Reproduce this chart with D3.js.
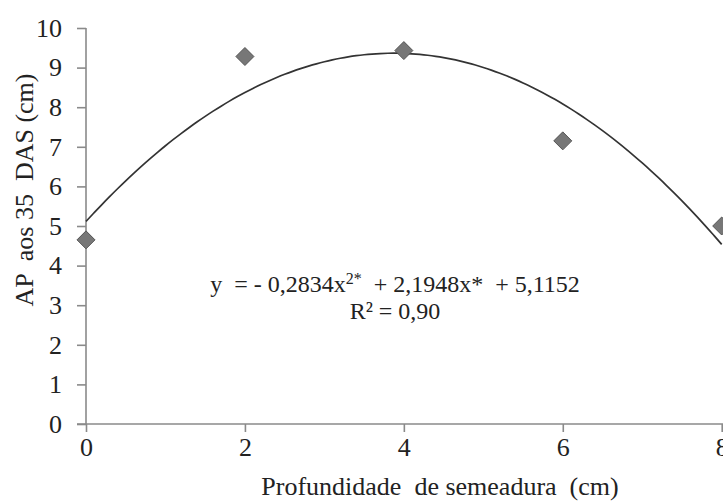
<!DOCTYPE html>
<html>
<head>
<meta charset="utf-8">
<script src="https://cdn.jsdelivr.net/npm/d3@7"></script>
<style>
  body { margin: 0; background: #fff; }
  svg { display: block; }
  text { white-space: pre; fill: #222; }
  .axis path, .axis line { stroke: #8a8a8a; stroke-width: 1.6; }
  .axis text { fill: #222; }
</style>
</head>
<body>
<svg class="chart_svg" width="723" height="502"></svg>
<script>
// data
var depths = [0, 2, 4, 6, 8];
var heights = [4.65, 9.28, 9.43, 7.15, 5.0];
var xTicks = [0, 2, 4, 6, 8];
var yTicks = [0, 1, 2, 3, 4, 5, 6, 7, 8, 9, 10];
// fitted curve printed on the chart: y = a x^2 + b x + c
var coef = [-0.2834, 2.1948, 5.1152];

var serif = "Liberation Serif";

var svg = d3.select(".chart_svg"),
    margin = {top: 28, right: 1, bottom: 78, left: 86},
    width = svg.attr("width") - margin.left - margin.right,
    height = svg.attr("height") - margin.top - margin.bottom;

var g = svg.append("g")
    .attr("transform", "translate(" + margin.left + "," + margin.top + ")");

var x = d3.scaleLinear().domain([0, 8]).range([0, 635.7]);
var y = d3.scaleLinear().domain([0, 10]).range([height, 0]);

// x axis (line extends a bit left of the y axis, like the original)
var xAxisEl = g.append("g")
    .attr("class", "axis axis--x")
    .attr("transform", "translate(0," + height + ")")
    .call(d3.axisBottom(x).tickValues(xTicks).tickSize(8).tickSizeOuter(0).tickPadding(6))
    .attr("font-family", serif)
    .attr("font-size", 26);
xAxisEl.select(".domain").attr("d", "M-9,0H" + (width + 1));

var yAxisEl = g.append("g")
    .attr("class", "axis axis--y")
    .call(d3.axisLeft(y).tickValues(yTicks).tickSize(9).tickSizeOuter(0).tickPadding(15))
    .attr("font-family", serif)
    .attr("font-size", 26);
yAxisEl.select(".domain").attr("d", "M0," + y(10) + "V" + height);

// trend line
var line = d3.line()
    .x(function(d) { return x(d); })
    .y(function(d) { return y(coef[0] * d * d + coef[1] * d + coef[2]); })
    .curve(d3.curveBasis);

g.append("path")
    .datum(d3.range(0, 8.001, 0.1))
    .attr("fill", "none")
    .attr("stroke", "#333")
    .attr("stroke-width", 1.7)
    .attr("d", line);

// diamond markers
var r = 9;
g.selectAll(".pt")
    .data(depths)
    .enter().append("path")
    .attr("class", "pt")
    .attr("transform", function(d, i) { return "translate(" + x(d) + "," + y(heights[i]) + ")"; })
    .attr("d", "M0," + (-r) + "L" + r + ",0L0," + r + "L" + (-r) + ",0Z")
    .style("fill", "#777")
    .style("stroke", "#555")
    .style("stroke-width", 1);

// equation
var eq = svg.append("text")
    .attr("x", 395)
    .attr("y", 292)
    .attr("text-anchor", "middle")
    .attr("font-family", serif)
    .attr("font-size", 24);
eq.append("tspan").text("y  = - 0,2834x");
eq.append("tspan").attr("dy", -8).attr("font-size", 16).text("2*");
eq.append("tspan").attr("dy", 8).text("  + 2,1948x*  + 5,1152");

svg.append("text")
    .attr("x", 395)
    .attr("y", 319)
    .attr("text-anchor", "middle")
    .attr("font-family", serif)
    .attr("font-size", 24)
    .text("R² = 0,90");

// axis titles
svg.append("text")
    .attr("x", 440)
    .attr("y", 495)
    .attr("text-anchor", "middle")
    .attr("font-family", serif)
    .attr("font-size", 26)
    .text("Profundidade  de semeadura  (cm)");

svg.append("text")
    .attr("transform", "translate(33,190) rotate(-90)")
    .attr("text-anchor", "middle")
    .attr("font-family", serif)
    .attr("font-size", 26)
    .text("AP  aos 35  DAS (cm)");
</script>
</body>
</html>
